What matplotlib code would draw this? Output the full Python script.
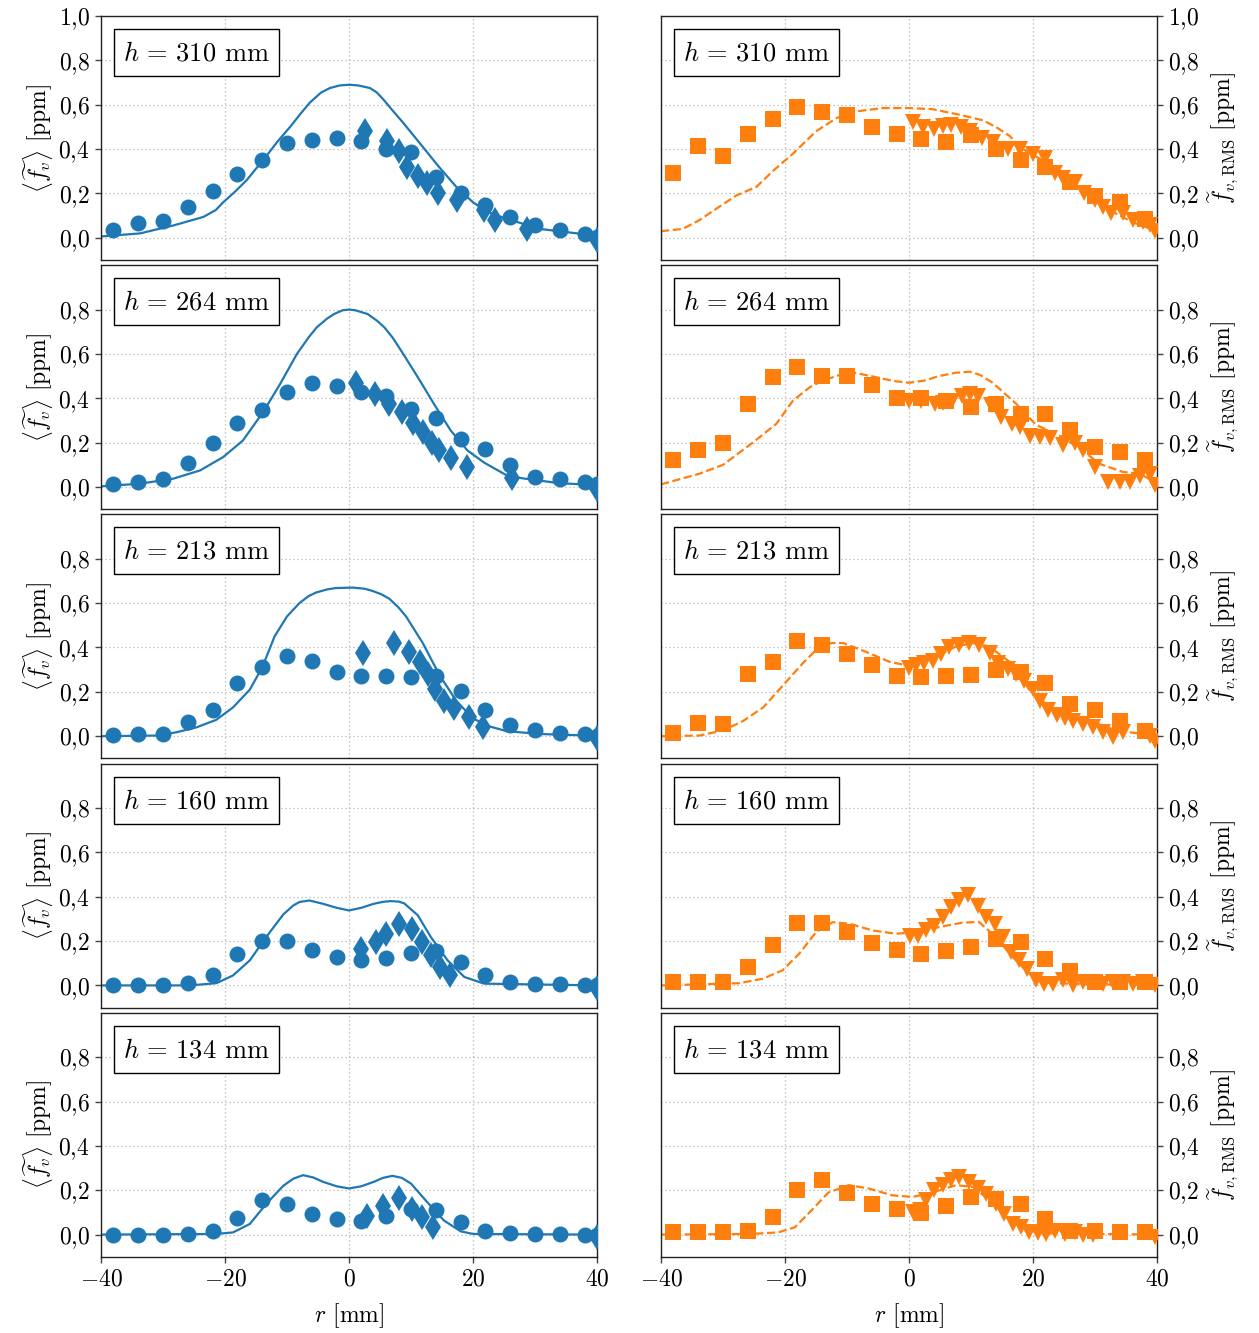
import matplotlib
matplotlib.use("Agg")
import matplotlib.pyplot as plt
from matplotlib.patches import Rectangle
from matplotlib.ticker import FuncFormatter, FixedLocator

plt.rcParams.update({
    "font.family": "serif",
    "font.serif": ["cmr10"],
    "mathtext.fontset": "cm",
    "axes.unicode_minus": False,
    "axes.formatter.use_mathtext": True,
})

BLUE = "#1f77b4"
ORANGE = "#ff7f0e"

# Heights above the burner
heights = [310, 264, 213, 160, 134]

# Radial stations of the measurement grids [mm]
r_mean_exp = [-38, -34, -30, -26, -22, -18, -14, -10, -6, -2, 2, 6, 10, 14, 18, 22, 26, 30, 34, 38, 40]
r_rms_exp = [-38, -34, -30, -26, -22, -18, -14, -10, -6, -2, 2, 6, 10, 14, 18, 22, 26, 30, 34, 38]

# ---------- mean soot volume fraction <f_v> [ppm] ----------
# experiment, circles
mean_exp_310 = [0.033, 0.066, 0.075, 0.139, 0.21, 0.286, 0.351, 0.427, 0.442, 0.448, 0.435, 0.40, 0.385, 0.275, 0.20, 0.147, 0.094, 0.056, 0.033, 0.015, 0.003]
mean_exp_264 = [0.012, 0.022, 0.038, 0.11, 0.20, 0.29, 0.345, 0.43, 0.47, 0.455, 0.43, 0.41, 0.35, 0.31, 0.215, 0.17, 0.10, 0.045, 0.038, 0.022, 0.012]
mean_exp_213 = [0.005, 0.008, 0.01, 0.064, 0.12, 0.24, 0.31, 0.36, 0.34, 0.29, 0.27, 0.27, 0.265, 0.27, 0.205, 0.12, 0.05, 0.026, 0.014, 0.008, 0.003]
mean_exp_160 = [0.0, 0.0, 0.0, 0.012, 0.045, 0.14, 0.20, 0.20, 0.16, 0.13, 0.115, 0.125, 0.147, 0.155, 0.105, 0.045, 0.015, 0.005, 0.005, 0.0, 0.0]
mean_exp_134 = [0.0, 0.0, 0.0, 0.003, 0.015, 0.076, 0.158, 0.14, 0.094, 0.071, 0.06, 0.086, 0.117, 0.109, 0.059, 0.018, 0.006, 0.003, 0.003, 0.0, 0.0]

# second experimental series, diamonds
r_mean_alt_310 = [2.6, 6.1, 8.0, 9.3, 11.2, 12.5, 14.3, 17.4, 21.7, 23.6, 28.7, 40.0]
mean_alt_310 = [0.48, 0.435, 0.39, 0.32, 0.28, 0.245, 0.20, 0.17, 0.125, 0.08, 0.04, -0.01]
r_mean_alt_264 = [1.2, 4.2, 6.4, 8.5, 10.4, 12.0, 13.4, 14.5, 16.4, 19.0, 26.3, 40.0]
mean_alt_264 = [0.47, 0.42, 0.375, 0.34, 0.29, 0.25, 0.20, 0.165, 0.13, 0.09, 0.04, -0.01]
r_mean_alt_213 = [2.3, 7.3, 9.6, 11.4, 12.8, 13.9, 15.3, 17.0, 19.3, 21.6, 40.0]
mean_alt_213 = [0.375, 0.42, 0.38, 0.335, 0.28, 0.215, 0.16, 0.125, 0.086, 0.04, -0.01]
r_mean_alt_160 = [2.0, 4.3, 5.9, 8.0, 10.2, 11.7, 13.3, 14.7, 16.3, 40.0]
mean_alt_160 = [0.165, 0.195, 0.233, 0.278, 0.256, 0.195, 0.135, 0.083, 0.045, -0.01]
r_mean_alt_134 = [2.9, 5.5, 8.0, 10.1, 11.8, 13.6, 40.0]
mean_alt_134 = [0.086, 0.13, 0.167, 0.117, 0.079, 0.033, -0.01]

# simulation, solid line
r_mean_sim_310 = [-40, -33.7, -28.3, -23.5, -21.5, -20.3, -18.5, -16.5, -13.3, -11.5, -9.5, -7.8, -6.3, -4.5, -3.1, -1.5, 0, 1.5, 3.4, 4.5, 5.5, 7, 8.7, 11.9, 14.5, 17.3, 20, 22.5, 25.4, 30.8, 38.9, 40]
mean_sim_310 = [0.006, 0.02, 0.056, 0.094, 0.125, 0.16, 0.205, 0.26, 0.37, 0.435, 0.50, 0.56, 0.61, 0.655, 0.675, 0.687, 0.69, 0.687, 0.675, 0.655, 0.625, 0.575, 0.52, 0.41, 0.32, 0.23, 0.16, 0.115, 0.086, 0.04, 0.013, 0.01]
r_mean_sim_264 = [-40, -33.7, -28.3, -24, -20.3, -17.1, -13.8, -11.1, -8.4, -6.5, -5.2, -3.5, -2.4, -1, 0, 1, 3, 4.5, 5.7, 7, 8.4, 11.1, 13.8, 16.4, 19.1, 21.8, 25.6, 28.3, 33.7, 40]
mean_sim_264 = [0.003, 0.015, 0.038, 0.075, 0.135, 0.21, 0.34, 0.465, 0.60, 0.675, 0.72, 0.76, 0.78, 0.797, 0.80, 0.797, 0.78, 0.75, 0.72, 0.675, 0.615, 0.495, 0.37, 0.255, 0.165, 0.11, 0.05, 0.038, 0.018, 0.008]
r_mean_sim_213 = [-40, -31, -27.8, -24.6, -21.4, -18.7, -16, -14, -12, -10, -8, -6.5, -5.3, -3.5, -2.1, 0.6, 2.5, 3.8, 5.2, 6.5, 8, 9.2, 11.9, 14.6, 17.3, 20, 22.7, 25.4, 30.8, 40]
mean_sim_213 = [0.0, 0.003, 0.018, 0.04, 0.074, 0.13, 0.21, 0.31, 0.45, 0.54, 0.60, 0.632, 0.648, 0.662, 0.668, 0.67, 0.665, 0.655, 0.64, 0.62, 0.58, 0.54, 0.42, 0.275, 0.16, 0.08, 0.044, 0.023, 0.01, 0.002]
r_mean_sim_160 = [-40, -25.7, -21.4, -18.7, -16, -13.3, -10.6, -9, -8, -6.4, -4.2, -2, 0, 2, 4, 5.5, 6.7, 8, 8.9, 11.1, 13.2, 15.9, 18.6, 21.8, 40]
mean_sim_160 = [0.0, 0.0, 0.01, 0.045, 0.113, 0.22, 0.32, 0.36, 0.376, 0.383, 0.368, 0.35, 0.338, 0.35, 0.368, 0.377, 0.38, 0.378, 0.37, 0.316, 0.218, 0.113, 0.038, 0.008, 0.0]
r_mean_sim_134 = [-40, -21.4, -18.7, -16, -13.3, -10.6, -9, -7.4, -5.8, -4.2, -2, 0, 2, 4, 5.5, 7, 8.5, 10, 12.6, 15.3, 18, 20, 40]
mean_sim_134 = [0.0, 0.003, 0.01, 0.048, 0.14, 0.22, 0.252, 0.268, 0.258, 0.238, 0.218, 0.208, 0.218, 0.238, 0.256, 0.265, 0.256, 0.23, 0.147, 0.064, 0.015, 0.003, 0.0]

# ---------- RMS fluctuation f_v,RMS [ppm] ----------
# experiment, squares
rms_exp_310 = [0.29, 0.415, 0.37, 0.47, 0.535, 0.59, 0.565, 0.555, 0.50, 0.47, 0.445, 0.43, 0.465, 0.40, 0.35, 0.32, 0.25, 0.19, 0.16, 0.085]
rms_exp_264 = [0.12, 0.165, 0.20, 0.375, 0.495, 0.54, 0.50, 0.50, 0.46, 0.40, 0.40, 0.39, 0.36, 0.375, 0.33, 0.33, 0.255, 0.18, 0.16, 0.12]
rms_exp_213 = [0.014, 0.06, 0.056, 0.28, 0.335, 0.43, 0.41, 0.37, 0.32, 0.27, 0.265, 0.27, 0.275, 0.30, 0.29, 0.24, 0.147, 0.12, 0.07, 0.023]
rms_exp_160 = [0.015, 0.015, 0.015, 0.083, 0.183, 0.283, 0.283, 0.24, 0.19, 0.158, 0.143, 0.155, 0.173, 0.21, 0.195, 0.117, 0.065, 0.015, 0.015, 0.015]
rms_exp_134 = [0.01, 0.01, 0.01, 0.018, 0.079, 0.20, 0.245, 0.188, 0.136, 0.114, 0.098, 0.127, 0.17, 0.162, 0.139, 0.071, 0.018, 0.015, 0.01, 0.01]

# second experimental series, down triangles
r_rms_alt_310 = [0.65, 2.3, 4.1, 5.5, 6.8, 8.4, 9.8, 11.7, 13.5, 16, 17.9, 20, 21.9, 23.5, 24.8, 26.7, 28.3, 30, 31.3, 32.6, 34.5, 36.1, 37.7, 38.8, 39.6]
rms_alt_310 = [0.52, 0.50, 0.49, 0.505, 0.51, 0.50, 0.48, 0.45, 0.43, 0.40, 0.40, 0.38, 0.36, 0.29, 0.27, 0.25, 0.20, 0.17, 0.14, 0.11, 0.11, 0.08, 0.07, 0.056, 0.03]
r_rms_alt_264 = [0, 2.0, 4.2, 5.5, 6.9, 8.5, 9.8, 11.1, 13.3, 14.9, 16.6, 17.9, 19.5, 21.1, 22.7, 24.9, 26.8, 28.1, 30, 32.1, 34, 35.6, 37.3, 38.9, 39.7]
rms_alt_264 = [0.39, 0.39, 0.375, 0.38, 0.39, 0.41, 0.42, 0.41, 0.37, 0.315, 0.285, 0.27, 0.23, 0.225, 0.22, 0.19, 0.20, 0.165, 0.09, 0.022, 0.022, 0.022, 0.05, 0.06, 0.01]
r_rms_alt_213 = [0, 1.1, 2.4, 3.8, 5.1, 6.5, 8.1, 9.7, 11.3, 13, 14.3, 15.9, 17.3, 18.6, 20, 21.1, 22.4, 23.8, 25.1, 26.5, 28.1, 29.7, 31.3, 32.9, 34.5, 38.8, 39.6]
rms_alt_213 = [0.306, 0.32, 0.33, 0.34, 0.37, 0.40, 0.41, 0.42, 0.41, 0.375, 0.33, 0.305, 0.28, 0.25, 0.215, 0.16, 0.117, 0.094, 0.08, 0.07, 0.056, 0.04, 0.018, -0.005, 0.018, 0.003, -0.02]
r_rms_alt_160 = [0.1, 1.5, 2.8, 4.1, 5.5, 6.8, 8.1, 9.5, 11.1, 12.4, 13.8, 15.1, 16.5, 17.8, 19.1, 20.5, 21.8, 23.2, 24.8, 26.4, 28.1, 29.7, 31.3, 32.9, 34.5, 36.1, 37.7, 39.6]
rms_alt_160 = [0.225, 0.225, 0.248, 0.27, 0.308, 0.353, 0.383, 0.406, 0.36, 0.308, 0.278, 0.218, 0.15, 0.113, 0.075, 0.023, 0.008, 0.008, 0.023, 0.0, 0.015, 0.015, 0.008, 0.015, 0.015, 0.008, 0.015, 0.0]
r_rms_alt_134 = [0.65, 1.7, 2.8, 4.1, 5.5, 6.8, 8.1, 9.7, 11.1, 12.4, 14, 15.4, 16.7, 18.1, 19.4, 20.8, 22.1, 23.5, 25.1, 26.7, 28.1, 29.7, 39.6]
rms_alt_134 = [0.10, 0.11, 0.155, 0.20, 0.223, 0.245, 0.26, 0.238, 0.208, 0.185, 0.14, 0.094, 0.048, 0.033, 0.01, 0.006, 0.003, 0.015, 0.003, 0.01, 0.0, 0.0, -0.012]

# simulation, dashed line
r_rms_sim_310 = [-40, -36.5, -33.8, -30.6, -27.9, -24.6, -22, -18.7, -15, -11.7, -8.5, -4.2, 0, 3.8, 8.1, 11.9, 14, 16.2, 18.4, 21.5, 25.3, 29.1, 32.3, 36.1, 40]
rms_sim_310 = [0.03, 0.04, 0.08, 0.14, 0.19, 0.23, 0.30, 0.38, 0.48, 0.54, 0.57, 0.585, 0.585, 0.58, 0.555, 0.53, 0.50, 0.46, 0.40, 0.35, 0.275, 0.185, 0.125, 0.07, 0.03]
r_rms_sim_264 = [-40, -33.8, -30, -25.2, -21.4, -18.7, -16, -13.9, -9.6, -5.3, -2.5, 0, 2.5, 4.8, 7.5, 9.8, 11.5, 13.5, 15.5, 17.3, 20.5, 24.8, 28, 30.7, 34.5, 37.2, 40]
rms_sim_264 = [0.012, 0.06, 0.10, 0.20, 0.285, 0.39, 0.45, 0.48, 0.52, 0.495, 0.478, 0.47, 0.48, 0.50, 0.515, 0.52, 0.505, 0.47, 0.42, 0.375, 0.28, 0.225, 0.165, 0.105, 0.068, 0.06, 0.018]
r_rms_sim_213 = [-40, -33.8, -30, -26.8, -23.5, -20.3, -17.1, -14.4, -12.5, -10.6, -6.9, -3.1, 0.1, 3.8, 7.6, 10.3, 12.9, 16.2, 19.4, 22.7, 25.9, 29.1, 33.4, 39.6, 40]
rms_sim_213 = [0.0, 0.003, 0.026, 0.068, 0.13, 0.23, 0.33, 0.405, 0.42, 0.42, 0.38, 0.335, 0.317, 0.35, 0.405, 0.42, 0.405, 0.336, 0.21, 0.13, 0.10, 0.07, 0.026, 0.003, 0.003]
r_rms_sim_160 = [-40, -27.4, -23.6, -20.4, -17.7, -15, -12.3, -9.6, -5.9, -2.1, 1.1, 4.9, 8.6, 11.3, 14, 16.7, 19.4, 22.7, 40]
rms_sim_160 = [0.0, 0.01, 0.03, 0.068, 0.143, 0.24, 0.285, 0.278, 0.248, 0.233, 0.24, 0.263, 0.283, 0.286, 0.218, 0.128, 0.053, 0.01, 0.0]
r_rms_sim_134 = [-40, -25.4, -21.1, -18.4, -15.7, -13, -9.7, -6.5, -2.7, 0.6, 3.8, 7.6, 10.3, 13, 15.7, 18.4, 21.6, 40]
rms_sim_134 = [0.0, 0.003, 0.01, 0.033, 0.11, 0.19, 0.223, 0.208, 0.177, 0.17, 0.19, 0.223, 0.215, 0.155, 0.079, 0.026, 0.006, 0.0]

mean_exp = [mean_exp_310, mean_exp_264, mean_exp_213, mean_exp_160, mean_exp_134]
mean_alt = [(r_mean_alt_310, mean_alt_310), (r_mean_alt_264, mean_alt_264), (r_mean_alt_213, mean_alt_213),
            (r_mean_alt_160, mean_alt_160), (r_mean_alt_134, mean_alt_134)]
mean_sim = [(r_mean_sim_310, mean_sim_310), (r_mean_sim_264, mean_sim_264), (r_mean_sim_213, mean_sim_213),
            (r_mean_sim_160, mean_sim_160), (r_mean_sim_134, mean_sim_134)]
rms_exp = [rms_exp_310, rms_exp_264, rms_exp_213, rms_exp_160, rms_exp_134]
rms_alt = [(r_rms_alt_310, rms_alt_310), (r_rms_alt_264, rms_alt_264), (r_rms_alt_213, rms_alt_213),
           (r_rms_alt_160, rms_alt_160), (r_rms_alt_134, rms_alt_134)]
rms_sim = [(r_rms_sim_310, rms_sim_310), (r_rms_sim_264, rms_sim_264), (r_rms_sim_213, rms_sim_213),
           (r_rms_sim_160, rms_sim_160), (r_rms_sim_134, rms_sim_134)]

W, H = 1259, 1333
fig = plt.figure(figsize=(W / 100, H / 100), dpi=100)

FS = 17
yfmt = FuncFormatter(lambda v, p: "$" + f"{v:.1f}".replace(".", "{,}") + "$")
xfmt = FuncFormatter(lambda v, p: f"${int(round(v))}$")

AX_W, AX_H = 496, 244


def style_axes(ax, row, right):
    ax.set_xlim(-40, 40)
    ax.set_ylim(-0.1, 1.0)
    ax.xaxis.set_major_locator(FixedLocator([-40, -20, 0, 20, 40]))
    yt = [0, 0.2, 0.4, 0.6, 0.8, 1.0] if row == 0 else [0, 0.2, 0.4, 0.6, 0.8]
    ax.yaxis.set_major_locator(FixedLocator(yt))
    ax.yaxis.set_major_formatter(yfmt)
    ax.xaxis.set_major_formatter(xfmt)
    ax.grid(True, linestyle=(0, (1, 2.2)), color="#b5b5b5", linewidth=0.9)
    ax.set_axisbelow(True)
    for s in ax.spines.values():
        s.set_linewidth(1.0)
        s.set_color("#222222")
    ax.tick_params(axis="both", labelsize=FS, direction="out", length=4.5, width=1.0, color="#444444")
    if row < 4:
        ax.tick_params(axis="x", length=0, labelbottom=False)
    else:
        ax.set_xlabel(r"$r$ [mm]", fontsize=FS, labelpad=8)
    if right:
        ax.yaxis.tick_right()
        ax.yaxis.set_label_position("right")
        ax.set_ylabel(r"$\widetilde{f}_{v,\mathrm{RMS}}$ [ppm]", fontsize=FS, labelpad=4)
    else:
        ax.set_ylabel(r"$\langle\widetilde{f_v}\rangle$ [ppm]", fontsize=FS, labelpad=2)
    # height label in a framed box, upper left corner
    bx0, bx1 = 13 / AX_W, 178 / AX_W
    by1, by0 = 1 - 13 / AX_H, 1 - 60 / AX_H
    ax.add_patch(Rectangle((bx0, by0), bx1 - bx0, by1 - by0, transform=ax.transAxes,
                           fc="white", ec="black", lw=1.0, zorder=10))
    ax.text((bx0 + bx1) / 2, (by0 + by1) / 2 - 0.004, rf"$h\,=\,{heights[row]}$ mm",
            transform=ax.transAxes, fontsize=19, ha="center", va="center", zorder=11)


for i in range(5):
    top = 16 + i * 249.2
    bottom = 1 - (top + AX_H) / H
    axl = fig.add_axes([101 / W, bottom, AX_W / W, AX_H / H])
    axr = fig.add_axes([661 / W, bottom, AX_W / W, AX_H / H])

    rs, vs = mean_sim[i]
    axl.plot(rs, vs, color=BLUE, lw=1.6, zorder=2)
    axl.plot(r_mean_exp, mean_exp[i], "o", color=BLUE, ms=11.5, mew=0, zorder=3)
    ra, va = mean_alt[i]
    axl.plot(ra, va, "d", color=BLUE, ms=13, mew=0, zorder=4)

    rs, vs = rms_sim[i]
    axr.plot(rs, vs, "--", color=ORANGE, lw=1.6, zorder=2)
    axr.plot(r_rms_exp, rms_exp[i], "s", color=ORANGE, ms=11, mew=0, zorder=3)
    ra, va = rms_alt[i]
    axr.plot(ra, va, "v", color=ORANGE, ms=12, mew=0, zorder=4)

    style_axes(axl, i, False)
    style_axes(axr, i, True)

fig.savefig("out.png", dpi=100)
